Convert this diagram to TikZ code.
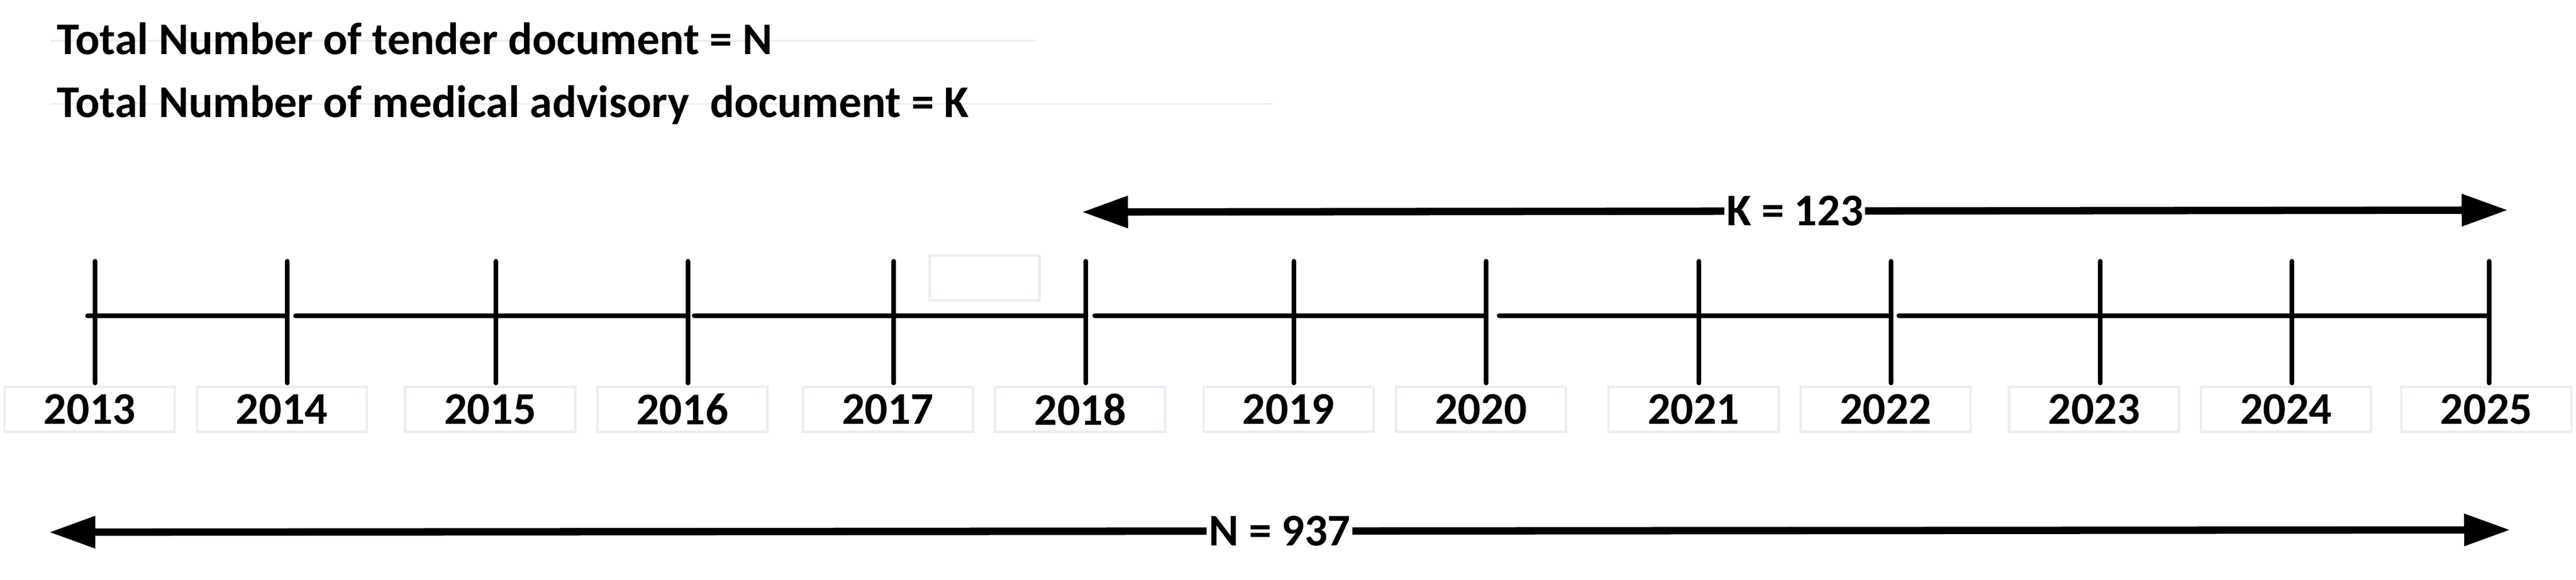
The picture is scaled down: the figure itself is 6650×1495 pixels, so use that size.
\documentclass[tikz,border=0pt]{standalone}
\usepackage{fontspec}
\setmainfont{Carlito}
\usetikzlibrary{arrows.meta}
\definecolor{boxgray}{RGB}{233,236,244}
\newcommand\yearfont{\fontsize{11.7pt}{14pt}\selectfont\bfseries}
\begin{document}
\begin{tikzpicture}[x=0.1pt,y=-0.1pt,
  yearbox/.style={draw=boxgray, line width=0.6pt, minimum width=43.9pt, minimum height=11.6pt, inner sep=0pt, font=\yearfont},
  blankbox/.style={draw=boxgray, line width=0.6pt, minimum width=28.3pt, minimum height=11.6pt, inner sep=0pt},
  yeartick/.style={line width=1.2pt, line cap=round},
  axisline/.style={line width=1.2pt, line cap=round},
  spanarrow/.style={line width=1.9pt, {Triangle[length=11.9pt,width=7.9pt]}-{Triangle[length=11.9pt,width=7.9pt]}},
  spanlabel/.style={fill=white, inner xsep=0.5pt, inner ysep=0pt, font=\yearfont},
  guide/.style={draw=boxgray, line width=0.5pt},
  titletext/.style={anchor=base west, inner sep=0pt, font=\yearfont}]
\useasboundingbox (0,0) rectangle (6650,1495);

% faint guide lines behind the titles
\coordinate (g1a) at (130,105); \coordinate (g1b) at (2673,105);
\coordinate (g2a) at (130,268); \coordinate (g2b) at (3285,268);
\draw[guide] (g1a) -- (g1b);
\draw[guide] (g2a) -- (g2b);

% titles
\node[titletext] (t1) at (145,140) {Total Number of tender document = N};
\node[titletext] (t2) at (145,303) {Total Number of medical advisory\ \ document = K};

% timeline axis (segments)
\foreach \a/\b [count=\i] in {226/736, 763/1776, 1792/2803, 2826/3830, 3870/4882, 4902/6426}{
  \coordinate (ax\i a) at (\a,814);
  \coordinate (ax\i b) at (\b,814);
  \draw[axisline] (ax\i a) -- (ax\i b);
}

% ticks and year boxes
\foreach \yr/\tx/\bx in {2013/246/231.5, 2014/742/727.5, 2015/1280/1265.5, 2016/1776/1761.5,
  2017/2307/2292, 2018/2803/2788.5, 2019/3340/3326.5, 2020/3837/3823, 2021/4386/4372,
  2022/4882/4868, 2023/5422/5406, 2024/5917/5901.5, 2025/6426/6418.5}{
  \coordinate (top\yr) at (\tx,674);
  \coordinate (bot\yr) at (\tx,988);
  \draw[yeartick] (top\yr) -- (bot\yr);
  \node[yearbox] (y\yr) at (\bx,1056) {\yr};
}

% empty box
\node[blankbox] (blank) at (2541.5,717) {};

% K span
\coordinate (kL) at (2793,547);
\coordinate (kR) at (6474,542);
\draw[spanarrow] (kL) -- (kR) node[midway, spanlabel] (klab) {K = 123};

% N span
\coordinate (nL) at (127,1373);
\coordinate (nR) at (6480,1367);
\draw[spanarrow] (nL) -- (nR) node[midway, spanlabel] (nlab) {N = 937};
\end{tikzpicture}
\end{document}
